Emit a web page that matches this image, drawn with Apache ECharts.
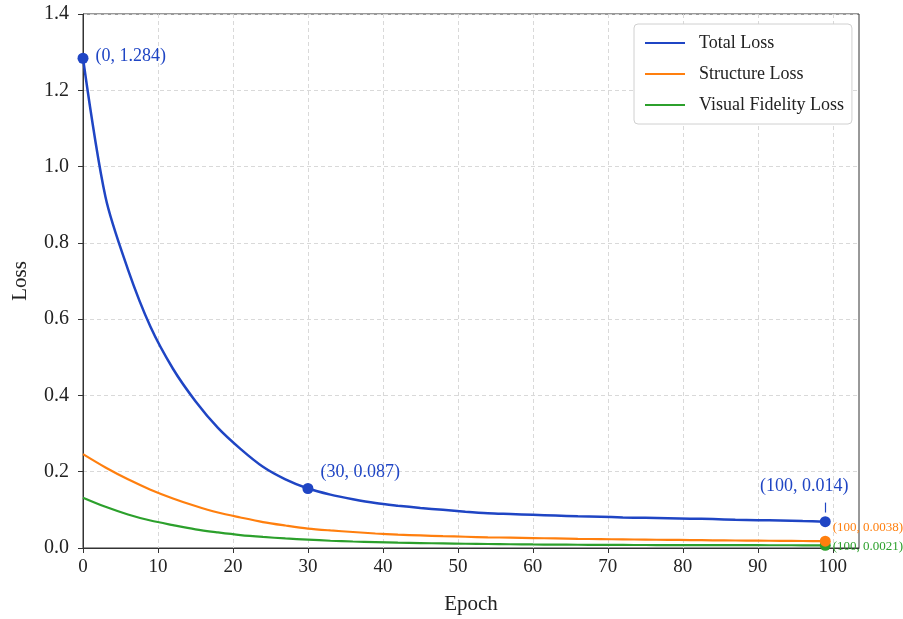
<!DOCTYPE html>
<html>
<head>
<meta charset="utf-8">
<script src="https://cdn.jsdelivr.net/npm/echarts@6/dist/echarts.min.js"></script>
<style>
  html, body { margin: 0; padding: 0; background: #fff; }
  #chart { width: 903px; height: 619px; }
</style>
</head>
<body>
<div id="chart"></div>
<script>
// values, every 3 epochs (last point is epoch 99)
var epochs = [0, 3, 6, 9, 12, 15, 18, 21, 24, 27, 30, 33, 36, 39, 42, 45, 48, 51, 54, 57, 60, 63, 66, 69, 72, 75, 78, 81, 84, 87, 90, 93, 96, 99]
var totalLoss = [1.284, 0.92, 0.73, 0.58, 0.47, 0.385, 0.315, 0.26, 0.213, 0.18, 0.156, 0.14, 0.128, 0.118, 0.111, 0.105, 0.1, 0.095, 0.091, 0.089, 0.087, 0.085, 0.083, 0.082, 0.08, 0.079, 0.078, 0.077, 0.076, 0.074, 0.073, 0.072, 0.0705, 0.069]
var structureLoss = [0.246, 0.211, 0.18, 0.153, 0.13, 0.11, 0.093, 0.08, 0.068, 0.059, 0.051, 0.046, 0.042, 0.038, 0.035, 0.033, 0.031, 0.0295, 0.028, 0.027, 0.026, 0.025, 0.024, 0.0233, 0.0227, 0.022, 0.0214, 0.0208, 0.0202, 0.0197, 0.0192, 0.0188, 0.0184, 0.018]
var visualLoss = [0.132, 0.108, 0.088, 0.072, 0.06, 0.049, 0.041, 0.034, 0.029, 0.025, 0.022, 0.019, 0.017, 0.0155, 0.0142, 0.013, 0.012, 0.0112, 0.0105, 0.0098, 0.0093, 0.0089, 0.0085, 0.0082, 0.008, 0.0078, 0.0077, 0.0076, 0.0075, 0.0074, 0.0073, 0.0072, 0.0071, 0.007]
var xTicks = [0, 10, 20, 30, 40, 50, 60, 70, 80, 90, 100]
var seriesNames = ['Total Loss', 'Structure Loss', 'Visual Fidelity Loss']

// annotated points: index into epochs + label text
var totalMarks = [[0, '(0, 1.284)'], [10, '(30, 0.087)'], [33, '(100, 0.014)']]
var structureMarks = [[33, '(100, 0.0038)']]
var visualMarks = [[33, '(100, 0.0021)']]

var BLUE = '#1f45c4'
var ORANGE = '#ff7f0e'
var GREEN = '#2ca02c'
var FONT = 'Liberation Serif'

function pairs(ys) {
  return epochs.map(function (x, i) { return [x, ys[i]] })
}

var myChart = echarts.init(document.getElementById('chart'))
var option = {
  backgroundColor: '#fff',
  textStyle: { fontFamily: FONT },
  animation: false,
  grid: {
    left: 83, right: 44, top: 14, bottom: 71,
    outerBoundsMode: 'none', containLabel: false,
    show: true, borderColor: '#333', borderWidth: 1
  },
  legend: {
    data: seriesNames,
    orient: 'vertical',
    left: 634, top: 24,
    padding: [10, 8, 10, 11],
    itemGap: 13,
    itemWidth: 40, itemHeight: 2,
    icon: 'rect',
    backgroundColor: '#fff',
    borderColor: '#d0d0d0', borderWidth: 1, borderRadius: 4,
    textStyle: { fontFamily: FONT, fontSize: 18, color: '#222', padding: [0, 0, 0, 9] }
  },
  xAxis: {
    type: 'value',
    min: 0, max: 103.5, interval: 10,
    name: 'Epoch',
    nameLocation: 'middle',
    nameGap: 46,
    nameTextStyle: { fontFamily: FONT, fontSize: 21, color: '#222' },
    axisLine: { show: true, lineStyle: { color: '#333', width: 1 } },
    axisTick: { show: true, customValues: xTicks, length: 5, lineStyle: { color: '#333' } },
    axisLabel: { customValues: xTicks, fontFamily: FONT, fontSize: 19, color: '#222', margin: 10 },
    splitLine: { show: true, lineStyle: { color: '#d9d9d9', type: [4, 3] } }
  },
  yAxis: {
    type: 'value',
    min: 0, max: 1.4, interval: 0.2,
    name: 'Loss',
    nameLocation: 'middle',
    nameGap: 52,
    nameRotate: 90,
    nameTextStyle: { fontFamily: FONT, fontSize: 21, color: '#222' },
    axisLine: { show: true, lineStyle: { color: '#333', width: 1 } },
    axisTick: { show: true, length: 5, lineStyle: { color: '#333' } },
    axisLabel: {
      fontFamily: FONT, fontSize: 20, color: '#222', margin: 14,
      formatter: function (v) { return v.toFixed(1) }
    },
    splitLine: { show: true, lineStyle: { color: '#d9d9d9', type: [4, 3] } }
  },
  series: [
    {
      name: seriesNames[0], type: 'line', data: pairs(totalLoss),
      smooth: 0.3, showSymbol: false, symbol: 'none',
      lineStyle: { color: BLUE, width: 2.5 }, itemStyle: { color: BLUE }, z: 3
    },
    {
      name: seriesNames[1], type: 'line', data: pairs(structureLoss),
      smooth: 0.3, showSymbol: false, symbol: 'none',
      lineStyle: { color: ORANGE, width: 2.2 }, itemStyle: { color: ORANGE }, z: 2
    },
    {
      name: seriesNames[2], type: 'line', data: pairs(visualLoss),
      smooth: 0.3, showSymbol: false, symbol: 'none',
      lineStyle: { color: GREEN, width: 2.2 }, itemStyle: { color: GREEN }, z: 2
    },
    {
      type: 'scatter', symbolSize: 11, z: 5,
      itemStyle: { color: BLUE, opacity: 1 },
      data: totalMarks.map(function (m, k) {
        var lbl
        if (k === 0) lbl = { position: 'right', offset: [2, -2] }
        else if (k === 1) lbl = { position: 'right', offset: [2, -16] }
        else lbl = { position: 'top', offset: [-21, -16] }
        return {
          value: [epochs[m[0]], totalLoss[m[0]]],
          label: Object.assign({ show: true, formatter: m[1], color: BLUE, fontFamily: FONT, fontSize: 18 }, lbl)
        }
      })
    },
    {
      type: 'scatter', symbolSize: 11, z: 5,
      itemStyle: { color: ORANGE, opacity: 1 },
      data: structureMarks.map(function (m) {
        return {
          value: [epochs[m[0]], structureLoss[m[0]]],
          label: { show: true, position: 'right', offset: [-3, -14], formatter: m[1], color: ORANGE, fontFamily: FONT, fontSize: 13 }
        }
      })
    },
    {
      type: 'scatter', symbolSize: 11, z: 4,
      itemStyle: { color: GREEN, opacity: 1 },
      data: visualMarks.map(function (m) {
        return {
          value: [epochs[m[0]], visualLoss[m[0]]],
          label: { show: true, position: 'right', offset: [-3, 1], formatter: m[1], color: GREEN, fontFamily: FONT, fontSize: 13 }
        }
      })
    },
    {
      // short leader from the last total-loss label down to its point
      type: 'line', silent: true, symbol: 'none',
      data: [],
      markLine: {
        silent: true, symbol: 'none',
        label: { show: false },
        lineStyle: { color: BLUE, width: 1.2, type: 'solid' },
        data: [[
          { coord: [epochs[33], totalLoss[33] + 0.024] },
          { coord: [epochs[33], totalLoss[33] + 0.05] }
        ]]
      }
    }
  ]
}
myChart.setOption(option)
window.addEventListener('resize', function () {
  myChart.resize()
})
</script>
</body>
</html>
